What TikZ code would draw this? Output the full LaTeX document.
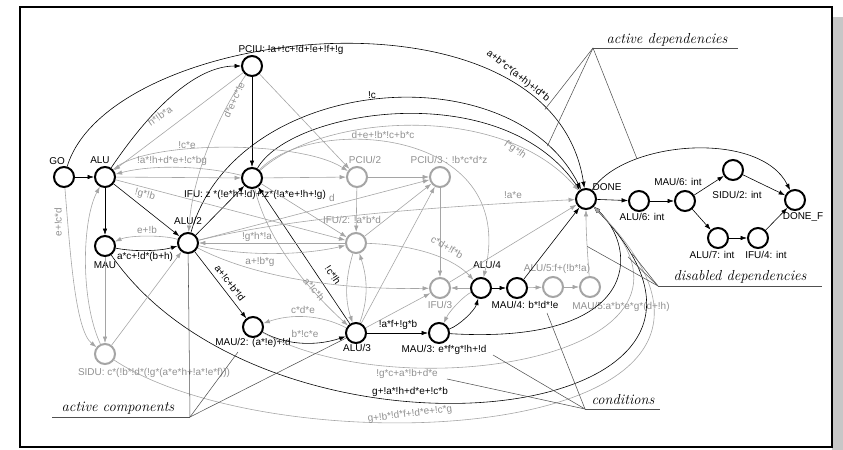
\documentclass[tikz,border=0pt]{standalone}
\usepackage{fontspec}
\setsansfont{Liberation Sans}
\usetikzlibrary{arrows.meta}

\definecolor{offline}{RGB}{165,165,165}
\definecolor{offtext}{RGB}{145,145,145}
\definecolor{pointer}{RGB}{80,80,80}

\begin{document}
\begin{tikzpicture}[x=0.03cm, y=-0.03cm,
  unit/.style={circle, draw, line width=1.7pt, minimum size=0.6cm, inner sep=0pt},
  offunit/.style={unit, draw=offline},
  dep/.style={-{Latex[length=5.5pt,width=3.8pt]}, line width=0.5pt},
  offdep/.style={dep, draw=offline},
  txt/.style={font=\sffamily\fontsize{8.5}{10}\selectfont, inner sep=0pt},
  offtxt/.style={txt, text=offtext},
  note/.style={font=\itshape\fontsize{12.4}{14}\selectfont, inner sep=0pt},
  hint/.style={draw=pointer, line width=0.45pt}]

  \useasboundingbox (0,0) rectangle (843,450);
  \fill[white] (0,0) rectangle (843,450);
  \fill[black!22] (832,17) rectangle (843,450);
  \draw[line width=1.7pt] (20,7) rectangle (832,447);

  %% units
  \node[unit] (go) at (64,177) {};
  \node[unit] (alu) at (105,177) {};
  \node[unit] (pciu) at (252,66) {};
  \node[unit] (ifu) at (252,178) {};
  \node[offunit] (pciu2) at (357,177) {};
  \node[offunit] (pciu3) at (440,177) {};
  \node[unit] (done) at (586,199) {};
  \node[unit] (mau) at (105,246) {};
  \node[unit] (alu2) at (188,243) {};
  \node[offunit] (ifu2) at (356,243) {};
  \node[offunit] (ifu3) at (440,288) {};
  \node[unit] (alu4) at (481,288) {};
  \node[unit] (mau4) at (517,288) {};
  \node[offunit] (alu5) at (553,287) {};
  \node[offunit] (mau5) at (590,287) {};
  \node[unit] (mau2) at (253,327) {};
  \node[unit] (alu3) at (356,333) {};
  \node[unit] (mau3) at (439,333) {};
  \node[offunit] (sidu) at (105,354) {};
  \node[unit] (alu6) at (639,201) {};
  \node[unit] (mau6) at (685,201) {};
  \node[unit] (sidu2) at (733,170) {};
  \node[unit] (donef) at (795,200) {};
  \node[unit] (alu7) at (718,238) {};
  \node[unit] (ifu4) at (758,238) {};

  \node[txt] (go-t) at (57,161) {GO};
  \node[txt] (alu-t) at (100,160) {ALU};
  \node[txt] (pciu-t) at (291,50) {PCIU: !a+!c+!d+!e+!f+!g};
  \node[txt] (ifu-t) at (255,195) {IFU: z *(!e*h+!d)+!z*(!a*e+!h+!g)};
  \node[offtxt] (pciu2-t) at (365,160) {PCIU/2};
  \node[offtxt] (pciu3-t) at (449,160) {PCIU/3 : !b*c*d*z};
  \node[txt] (done-t) at (607,187) {DONE};
  \node[txt] (mau-t) at (105,265) {MAU};
  \node[txt] (alu2-t) at (188,221) {ALU/2};
  \node[offtxt] (ifu2-t) at (352,220) {IFU/2: !a*b*d};
  \node[offtxt] (ifu3-t) at (440,305) {IFU/3};
  \node[txt] (alu4-t) at (487,265) {ALU/4};
  \node[txt] (mau4-t) at (525,305) {MAU/4: b*!d*!e};
  \node[offtxt] (alu5-t) at (557,269) {ALU/5:f+(!b*!a)};
  \node[offtxt] (mau5-t) at (621,307) {MAU/5:a*b*e*g*(d+!h)};
  \node[txt] (mau2-t) at (253,343) {MAU/2: (a*!e)+!d};
  \node[txt] (alu3-t) at (357,348) {ALU/3};
  \node[txt] (mau3-t) at (444,350) {MAU/3: e*f*g*!h+!d};
  \node[offtxt] (sidu-t) at (154,373) {SIDU: c*(!b*!d*(!g*(a*e*h+!a*!e*f)))};
  \node[txt] (alu6-t) at (642,217) {ALU/6: int};
  \node[txt] (mau6-t) at (678,182) {MAU/6: int};
  \node[txt] (sidu2-t) at (737,195) {SIDU/2: int};
  \node[txt] (donef-t) at (803,217) {DONE\_F};
  \node[txt] (alu7-t) at (712,255) {ALU/7: int};
  \node[txt] (ifu4-t) at (766,255) {IFU/4: int};

  %% active dependencies
  \draw[dep] (go) -- (alu);
  \draw[dep] (alu) -- (mau);
  \draw[dep] (alu) -- (alu2);
  \draw[dep] (pciu) -- (ifu);
  \draw[dep] (alu) .. controls (150,110) and (195,66) .. (pciu);
  \draw[dep] (go) .. controls (110,25) and (552,-25) .. (done)
    node[coordinate, pos=0.85] (arc-abc) {};
  \draw[dep] (alu2) .. controls (235,75) and (510,50) .. (done)
    node[coordinate, pos=0.88] (arc-nc) {};
  \draw[dep] (ifu) .. controls (290,110) and (500,75) .. (done);
  \draw[dep] (alu2) -- (ifu);
  \draw[dep] (alu3) -- (ifu);
  \draw[dep] (mau) .. controls (135,252) and (160,251) .. (alu2);
  \draw[dep] (alu2) -- (mau2);
  \draw[dep] (mau2) .. controls (290,347) and (320,345) .. (alu3);
  \draw[dep] (alu3) -- (mau3);
  \draw[dep] (mau3) .. controls (460,325) and (475,310) .. (alu4);
  \draw[dep] (alu4) -- (mau4);
  \draw[dep] (mau4) -- (done);
  \draw[dep] (done) -- (alu6);
  \draw[dep] (alu6) -- (mau6);
  \draw[dep] (mau6) -- (sidu2);
  \draw[dep] (sidu2) -- (donef);
  \draw[dep] (mau6) -- (alu7);
  \draw[dep] (alu7) -- (ifu4);
  \draw[dep] (ifu4) -- (donef);
  \draw[dep] (done) .. controls (625,140) and (760,130) .. (donef)
    node[coordinate, pos=0.27] (arc-fin) {};

  %% loops back into DONE
  \draw[dep] (mau3) .. controls (640,345) and (640,250) .. (done);
  \draw[offdep] (mau2) .. controls (400,410) and (745,358) .. (done)
    node[coordinate, pos=0.88] (loop-g1) {};
  \draw[dep] (mau) .. controls (270,485) and (810,430) .. (done);
  \draw[offdep] (sidu) .. controls (280,470) and (830,445) .. (done)
    node[coordinate, pos=0.93] (loop-g2) {};

  %% disabled dependencies
  \draw[offdep] (go) .. controls (70,250) and (75,330) .. (sidu);
  \draw[offdep] (sidu) .. controls (80,300) and (82,220) .. (alu);
  \draw[offdep] (mau) -- (sidu);
  \draw[offdep] (sidu) -- (alu2);
  \draw[offdep] (pciu) -- (alu);
  \draw[offdep] (pciu) .. controls (215,120) and (192,180) .. (alu2);
  \draw[offdep] (pciu) -- (pciu2);
  \draw[offdep] (ifu) .. controls (200,165) and (150,165) .. (alu);
  \draw[offdep] (alu) .. controls (145,140) and (300,140) .. (pciu2);
  \draw[offdep] (alu) -- (ifu);
  \draw[offdep] (alu) -- (ifu2);
  \draw[offdep] (ifu) -- (pciu2);
  \draw[offdep] (pciu2) -- (pciu3);
  \draw[offdep] (pciu2) -- (ifu2);
  \draw[offdep] (pciu3) -- (ifu3);
  \draw[offdep] (alu2) .. controls (165,235) and (130,235) .. (mau);
  \draw[offdep] (alu2) -- (pciu3);
  \draw[offdep] (alu2) .. controls (300,215) and (470,205) .. (done);
  \draw[offdep] (ifu2) -- (alu2);
  \draw[offdep] (alu2) .. controls (240,256) and (300,256) .. (ifu2);
  \draw[offdep] (alu2) .. controls (260,280) and (350,290) .. (ifu3);
  \draw[offdep] (ifu) -- (ifu2);
  \draw[offdep] (ifu) .. controls (270,250) and (320,300) .. (alu3);
  \draw[offdep] (ifu) .. controls (310,115) and (520,125) .. (alu4);
  \draw[offdep] (ifu) .. controls (320,115) and (500,100) .. (done);
  \draw[offdep] (ifu2) .. controls (345,280) and (345,300) .. (alu3);
  \draw[offdep] (alu3) .. controls (368,300) and (368,280) .. (ifu2);
  \draw[offdep] (alu3) -- (ifu3);
  \draw[offdep] (alu3) -- (pciu3);
  \draw[offdep] (ifu2) -- (pciu3);
  \draw[offdep] (ifu2) .. controls (420,245) and (455,260) .. (alu4);
  \draw[offdep] (alu4) -- (ifu3);
  \draw[offdep] (alu4) .. controls (465,295) and (450,310) .. (mau3);
  \draw[offdep] (ifu3) -- (done);
  \draw[offdep] (alu3) .. controls (320,314) and (290,314) .. (mau2);
  \draw[offdep] (mau4) -- (alu5);
  \draw[offdep] (alu5) -- (mau5);
  \draw[offdep] (mau5) .. controls (588,260) and (586,235) .. (done)
    node[coordinate, pos=0.5] (arc-m5) {};

  %% conditions on the edges
  \node[txt] (c-abc) at (518,76) [rotate=-38] {a+b*c*(a+h)+!d*b};
  \node[txt] (c-nc) at (372,95) {!c};
  \node[offtxt] (c-debc) at (383,135) {d+e+!b*!c+b*c};
  \node[offtxt] (c-fgh) at (515,150) [rotate=-35] {f*g*!h};
  \node[offtxt] (c-ae) at (513,195) {!a*e};
  \node[offtxt] (c-hba) at (160,116) [rotate=35] {h*!b*a};
  \node[offtxt] (c-dece) at (234,100) [rotate=65] {d*e+c*!e};
  \node[offtxt] (c-ce) at (187,145) {!c*e};
  \node[offtxt] (c-ahde) at (172,161) {!a*!h+d*e+!c*bg};
  \node[offtxt] (c-gb) at (145,195) [rotate=-15] {!g*!b};
  \node[offtxt] (c-ecd) at (58,222) [rotate=90] {e+!c*d};
  \node[offtxt] (c-eb) at (147,230) {e+!b};
  \node[txt] (c-acdbh) at (145,257) {a*c+!d*(b+h)};
  \node[txt] (c-acbd) at (230,283) [rotate=-52] {a+!c+b*!d};
  \node[offtxt] (c-gha) at (257,237) {!g*h*!a};
  \node[offtxt] (c-abg) at (260,262) {a+!b*g};
  \node[offtxt] (c-d) at (332,198) {d};
  \node[offtxt] (c-cdfb) at (447,247) [rotate=-30] {c*d+!f*b};
  \node[txt] (c-ch) at (333,275) [rotate=-56] {!c*!h};
  \node[offtxt] (c-ach) at (314,289) [rotate=-50] {a*!c*h};
  \node[offtxt] (c-cde) at (303,310) {c*d*e};
  \node[offtxt] (c-bce) at (305,334) {b*!c*e};
  \node[txt] (c-afgb) at (398,325) {!a*f+!g*b};
  \node[offtxt] (c-gcab) at (407,374) {!g*c+a*!b+d*e};
  \node[txt] (c-gahd) at (410,392) {g+!a*!h+d*e+!c*b};
  \node[offtxt] (c-gbdf) at (410,414) [rotate=7] {g+!b*!d*f+!d*e+!c*g};

  %% annotations
  \node[note] (n-actdep) at (667,40) {active dependencies};
  \coordinate (ad) at (593,48);
  \draw[hint] (ad) -- (738,48);
  \draw[hint] (ad) -- (arc-abc);
  \draw[hint] (ad) -- (arc-nc);
  \draw[hint] (ad) -- (arc-fin);

  \node[note] (n-actcomp) at (118,408) {active components};
  \coordinate (ac) at (190,417);
  \coordinate (ac-m2) at (238,352);
  \draw[hint] (52,417) -- (ac);
  \draw[hint] (ac) -- (alu2);
  \draw[hint] (ac) -- (ac-m2);
  \draw[hint] (ac) -- (alu3);

  \node[note] (n-cond) at (623,400) {conditions};
  \coordinate (cd) at (585,409);
  \coordinate (cd-m4) at (547,313);
  \coordinate (cd-m3) at (493,355);
  \coordinate (cd-gc) at (447,379);
  \draw[hint] (cd) -- (660,409);
  \draw[hint] (cd) -- (cd-m4);
  \draw[hint] (cd) -- (cd-m3);
  \draw[hint] (cd) -- (cd-gc);

  \node[note] (n-disdep) at (740,277) {disabled dependencies};
  \coordinate (dd) at (658,286);
  \draw[hint] (dd) -- (822,286);
  \draw[hint] (dd) -- (arc-m5);
  \draw[hint] (dd) -- (loop-g1);
  \draw[hint] (dd) -- (loop-g2);

\end{tikzpicture}
\end{document}
